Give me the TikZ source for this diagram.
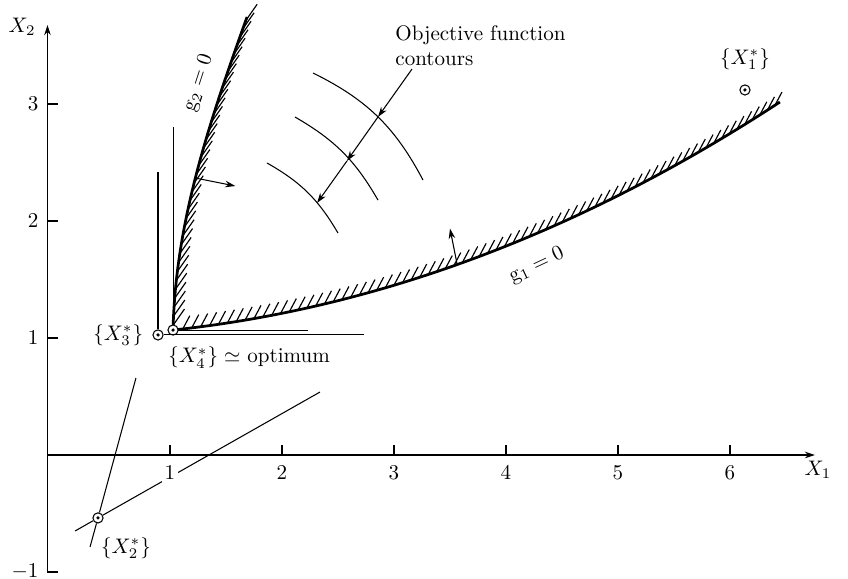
\documentclass[tikz,border=0pt]{standalone}
\usepackage{amsmath,amssymb}
\usepackage{tikz}
\usetikzlibrary{arrows.meta,positioning,decorations.markings}

\begin{document}
\begin{tikzpicture}[
  x=1.8704cm, y=1.9539cm,
  ax/.style={line width=0.6pt},
  ar/.style={-{Stealth[length=1.7mm,width=1.1mm]},line width=0.5pt},
  bnd/.style={line width=1.3pt},
  hat/.style={postaction={decorate},decoration={markings,
      mark=between positions 0.015 and 0.995 step 1.5mm with
      {\pgftransformresetnontranslations\draw[line width=0.55pt] (0,0) -- (#1);}}},
  srch/.style={line width=0.5pt},
  pnt/.style={circle,draw,line width=0.5pt,fill=white,inner sep=0pt,minimum size=1.7mm,
      path picture={\fill[black] (path picture bounding box.center) circle (0.3mm);}},
  tk/.style={fill=white,inner sep=1.5pt},
]
\useasboundingbox (-0.518,-1.06) rectangle (7.054,3.889);

% ---- axes
\coordinate (org) at (-0.094,0);
\coordinate (ybot) at (-0.094,-1);
\coordinate (ytop) at (-0.094,3.675);
\coordinate (xend) at (6.759,0);
\draw[ax,-{Stealth[length=1.7mm,width=1.1mm]}] (ybot) -- (ytop);
\draw[ax,-{Stealth[length=1.7mm,width=1.1mm]}] (org) -- (xend);
\foreach \i in {1,...,6} \draw[ax] (\i,0) -- ++(0,1.7mm);
\foreach \j in {-1,1,2,3} \draw[ax] (-0.094,\j) -- ++(1.7mm,0);
\node (xlab) at (6.786,-0.13) {$X_1$};
\node (ylab) at (-0.321,3.658) {$X_2$};

% ---- constraint boundaries, hatched on the infeasible side
\coordinate (opt) at (1.027,1.068);
\draw[bnd,hat=55:3.3mm] (opt) .. controls (1.05,2.0) and (1.353,2.85) .. (1.688,3.744)
  coordinate[pos=0.48] (n2);
\draw[bnd,hat=62:2.5mm] (opt) .. controls (2.816,1.25) and (4.632,1.88) .. (6.446,3.017)
  coordinate[pos=0.47] (n1);
\coordinate (n2e) at (1.583,2.299);
\coordinate (n1e) at (3.50,1.935);
\draw[ar] (n2) -- (n2e);
\draw[ar] (n1) -- (n1e);
\node[rotate=72] (g2lab) at (1.255,3.18) {$\mathrm{g}_2 = 0$};
\node[rotate=25] (g1lab) at (4.275,1.62) {$\mathrm{g}_1 = 0$};

% ---- objective contours
\draw[srch] (2.277,3.265) to[bend left=18] (3.259,2.350);
\draw[srch] (2.116,2.889) to[bend left=15] (2.857,2.179);
\draw[srch] (1.866,2.496) to[bend left=15] (2.5,1.897);
\coordinate (c0) at (3.161,3.299);
\coordinate (c1) at (2.857,2.889);
\coordinate (c2) at (2.580,2.513);
\coordinate (c3) at (2.313,2.154);
\draw[ar] (c0) -- (c1);
\draw[ar] (c1) -- (c2);
\draw[ar] (c2) -- (c3);
\node[anchor=west,align=left,inner sep=0pt] (objlab) at (3.009,3.50) {Objective function\\contours};

% ---- search points
\node[pnt] (x1s) at (6.134,3.120) {};
\node[pnt] (x2s) at (0.357,-0.538) {};
\node[pnt] (x3s) at (0.893,1.026) {};
\node[pnt] (x4s) at (opt) {};
\node[above=1.2mm of x1s] (x1lab) {$\{X_1^*\}$};
\node[below right=1.4mm and -1.4mm of x2s] (x2lab) {$\{X_2^*\}$};
\node[left=0.3mm of x3s] (x3lab) {$\{X_3^*\}$};
\node[anchor=north west,inner sep=1pt] (x4lab) at ([xshift=-1.2mm,yshift=-1.5mm]x4s.south)
  {$\{X_4^*\}\simeq$ optimum};

% ---- search directions
\coordinate (s3v) at (0.893,2.419);
\coordinate (s3h) at (2.732,1.026);
\coordinate (s4v) at (1.027,2.803);
\coordinate (s4h) at (2.232,1.068);
\coordinate (s2a) at (0.286,-0.786);
\coordinate (s2b) at (0.696,0.658);
\coordinate (s2c) at (0.152,-0.650);
\coordinate (s2d) at (2.339,0.538);
\draw[srch] (x3s) -- (s3v);
\draw[srch] (x3s) -- (s3h);
\draw[srch] (x4s) -- (s4v);
\draw[srch] (x4s) -- (s4h);
\draw[srch] (s2a) -- (x2s) -- (s2b);
\draw[srch] (s2c) -- (x2s) -- (s2d);

% ---- tick labels last, so they break the lines
\foreach \i in {1,...,6} \node[tk,below=1.3mm] (xt\i) at (\i,0) {$\i$};
\foreach \j in {-1,1,2,3} \node[tk,left=0.9mm] (yt\j) at (-0.094,\j) {$\j$};
\end{tikzpicture}
\end{document}
